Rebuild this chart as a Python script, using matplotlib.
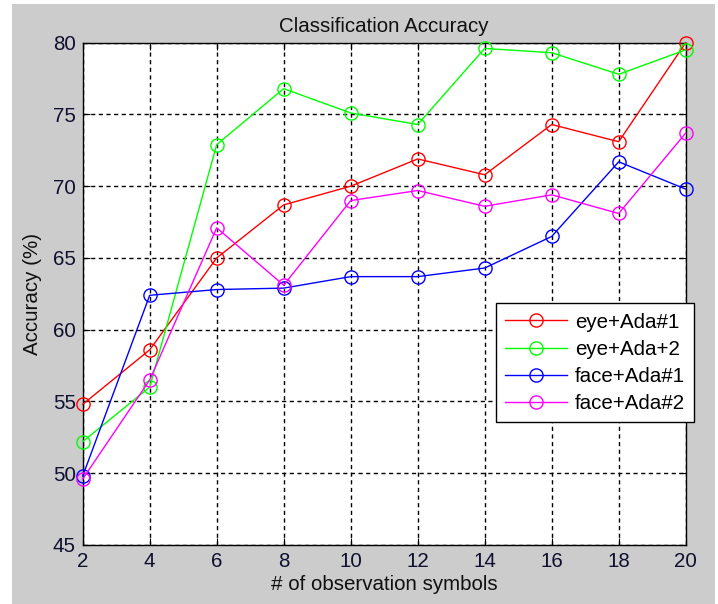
import matplotlib
matplotlib.use("Agg")
import matplotlib.pyplot as plt
from matplotlib.patches import Rectangle

plt.rcParams['font.family'] = ['Liberation Sans', 'DejaVu Sans']

x = [2, 4, 6, 8, 10, 12, 14, 16, 18, 20]
eye_ada1 = [54.8, 58.6, 65.0, 68.7, 70.0, 71.9, 70.8, 74.3, 73.1, 80.0]
eye_ada2 = [52.2, 56.0, 72.9, 76.8, 75.1, 74.3, 79.6, 79.3, 77.8, 79.5]
face_ada1 = [49.8, 62.4, 62.8, 62.9, 63.7, 63.7, 64.3, 66.5, 71.7, 69.8]
face_ada2 = [49.6, 56.5, 67.1, 63.1, 69.0, 69.7, 68.6, 69.4, 68.1, 73.7]
labels = ['eye+Ada#1', 'eye+Ada+2', 'face+Ada#1', 'face+Ada#2']
colors = ['#ff0000', '#00ff00', '#0000ff', '#ff00ff']
xticks = [2, 4, 6, 8, 10, 12, 14, 16, 18, 20]
yticks = [45, 50, 55, 60, 65, 70, 75, 80]

W, H = 718, 604
fig = plt.figure(figsize=(W / 100, H / 100), dpi=100)
fig.patch.set_facecolor('white')
fig.patches.append(Rectangle((12 / W, 0), (715 - 12) / W, 1 - 4 / H,
                             transform=fig.transFigure, facecolor='#cccccc',
                             edgecolor='none', zorder=-10))

ax = fig.add_axes([82.7 / W, 1 - 545 / H, (685.7 - 82.7) / W, (545 - 42.7) / H])
ax.set_facecolor('white')

fs = 14.8
for ys, c, lab in zip([eye_ada1, eye_ada2, face_ada1, face_ada2], colors, labels):
    ax.plot(x, ys, color=c, lw=1.0, marker='o', markersize=9.5,
            markerfacecolor='none', markeredgecolor=c, markeredgewidth=1.0,
            label=lab, clip_on=False, zorder=3)

ax.set_xlim(2, 20)
ax.set_ylim(45, 80)
ax.set_xticks(xticks)
ax.set_yticks(yticks)
ax.tick_params(direction='in', length=5, width=0.8, top=True, right=True,
               labelsize=fs, colors='black', labelcolor='#101030', pad=5)
ax.grid(True, color='black', linestyle=(0, (3, 2.5)), linewidth=1.0)
ax.set_axisbelow(True)
for s in ax.spines.values():
    s.set_color('black')
    s.set_linewidth(1.0)

ax.set_title('Classification Accuracy', fontsize=fs, pad=8, color='#101010')
ax.set_xlabel('# of observation symbols', fontsize=fs, labelpad=3, color='#101010')
ax.set_ylabel('Accuracy (%)', fontsize=fs, labelpad=8, color='#101010')

leg = ax.legend(loc='upper left', bbox_to_anchor=(495.7 / W, 1 - 303.3 / H),
                bbox_transform=fig.transFigure, fontsize=fs, frameon=True,
                fancybox=False, shadow=False, handlelength=3.0,
                labelspacing=0.4, borderpad=0.45, handletextpad=0.4,
                borderaxespad=0.0)
leg.get_frame().set_edgecolor('black')
leg.get_frame().set_linewidth(1.0)
leg.get_frame().set_facecolor('white')
leg.get_frame().set_alpha(1.0)

fig.savefig('out.png', dpi=100)
